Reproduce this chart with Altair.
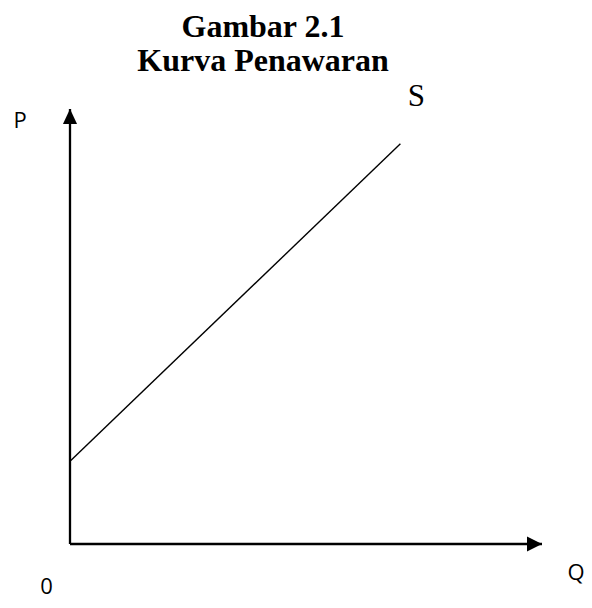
import altair as alt
import pandas as pd

# Data
axis_q_max = 10.0
axis_p_max = 10.0
supply_q = [0.0, 7.0]
supply_p = [1.9, 9.2]
title_lines = ["Gambar 2.1", "Kurva Penawaran"]
label_supply = "S"
label_p = "P"
label_q = "Q"
label_origin = "0"

xs = alt.Scale(domain=[0, axis_q_max], nice=False, zero=False)
ys = alt.Scale(domain=[0, axis_p_max], nice=False, zero=False)

axes_df = pd.DataFrame({
    "q": [0.0, 0.0], "p": [0.0, 0.0],
    "q2": [axis_q_max, 0.0], "p2": [0.0, axis_p_max],
})
supply_df = pd.DataFrame({"q": supply_q, "p": supply_p})
up_df = pd.DataFrame({"q": [0.0], "p": [axis_p_max]})
right_df = pd.DataFrame({"q": [axis_q_max], "p": [0.0]})
origin_df = pd.DataFrame({"q": [0.0], "p": [0.0], "t": [label_origin]})
s_df = pd.DataFrame({"q": [supply_q[-1]], "p": [supply_p[-1]], "t": [label_supply]})
p_df = pd.DataFrame({"q": [0.0], "p": [axis_p_max], "t": [label_p]})
q_df = pd.DataFrame({"q": [axis_q_max], "p": [0.0], "t": [label_q]})

X = alt.X("q:Q", scale=xs, axis=None)
Y = alt.Y("p:Q", scale=ys, axis=None)

axes = alt.Chart(axes_df).mark_rule(color="black", strokeWidth=2.3).encode(
    x=X, y=Y, x2="q2:Q", y2="p2:Q"
)
supply = alt.Chart(supply_df).mark_line(color="black", strokeWidth=1.4).encode(x=X, y=Y)

up_arrow = alt.Chart(up_df).mark_point(
    shape="M0,0L0.47,1L-0.47,1Z", size=900, filled=True, color="black", opacity=1, strokeWidth=0
).encode(x=X, y=Y)
right_arrow = alt.Chart(right_df).mark_point(
    shape="M0,0L-1,-0.5L-1,0.5Z", size=900, filled=True, color="black", opacity=1, strokeWidth=0
).encode(x=X, y=Y)

sans = "Open Sans"
t_s = alt.Chart(s_df).mark_text(
    font="Liberation Serif", fontSize=31, color="black", dx=16, dy=-47, baseline="middle"
).encode(x=X, y=Y, text="t:N")
t_p = alt.Chart(p_df).mark_text(
    font=sans, fontSize=22, color="black", dx=-50, dy=12, baseline="middle"
).encode(x=X, y=Y, text="t:N")
t_q = alt.Chart(q_df).mark_text(
    font=sans, fontSize=22, color="black", dx=34, dy=29, baseline="middle"
).encode(x=X, y=Y, text="t:N")
t_0 = alt.Chart(origin_df).mark_text(
    font=sans, fontSize=22, color="black", dx=-23.5, dy=43, baseline="middle"
).encode(x=X, y=Y, text="t:N")

chart = alt.layer(axes, supply, up_arrow, right_arrow, t_s, t_p, t_q, t_0).properties(
    width=472,
    height=435,
    padding={"left": 62, "top": 101, "right": 42, "bottom": 56},
    autosize=alt.AutoSizeParams(type="none"),
    background="white",
    title=alt.TitleParams(
        text=title_lines,
        font="Liberation Serif",
        fontSize=32,
        fontWeight="bold",
        color="black",
        anchor="middle",
        frame="group",
        dx=-43,
        dy=33,
        baseline="bottom",
        lineHeight=34,
        offset=4,
    ),
).configure_view(stroke=None)

chart.save("out.html", embed_options={"renderer": "svg", "actions": False})
